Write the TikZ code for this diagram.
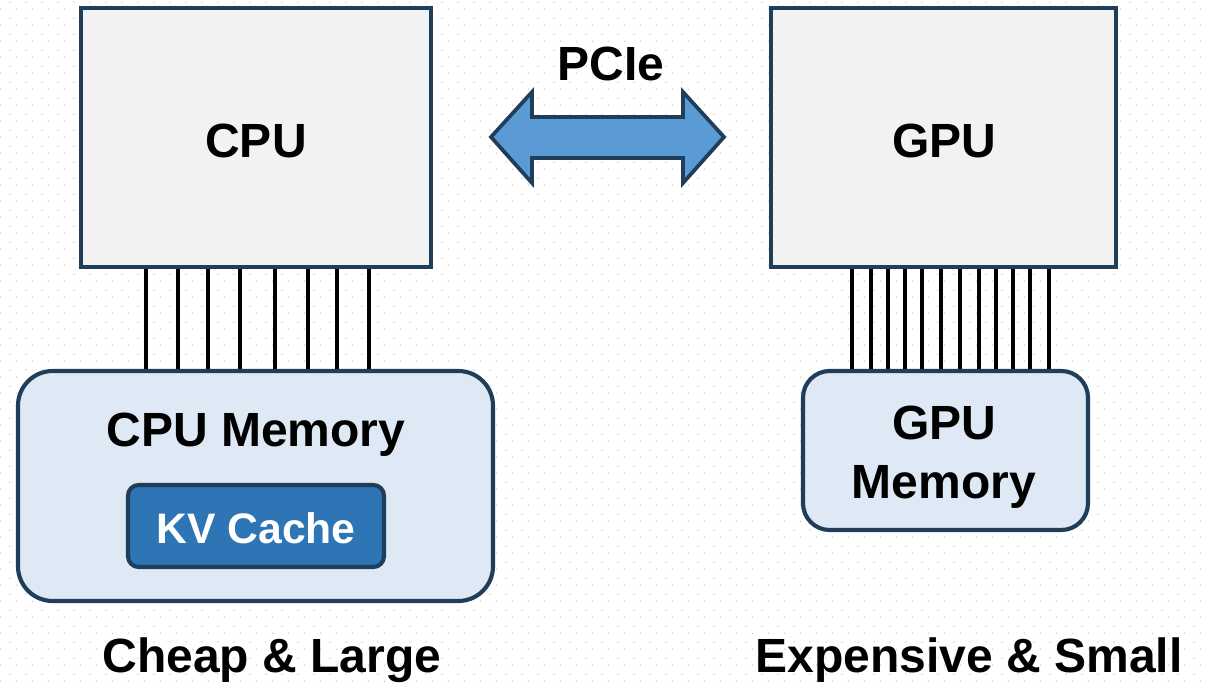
\documentclass[tikz,border=0pt]{standalone}
\usepackage{fontspec}
\setmainfont{Liberation Sans}
\usetikzlibrary{fit}

\definecolor{edge}{HTML}{203D5A}
\definecolor{chipfill}{HTML}{F2F2F2}
\definecolor{memfill}{HTML}{DEE9F5}
\definecolor{kvfill}{HTML}{2E75B6}
\definecolor{linkfill}{HTML}{5B9BD5}
\definecolor{dotgray}{HTML}{D6D6D6}

\tikzset{
  label text/.style={font=\fontsize{36}{44}\selectfont\bfseries, text=black},
  chip/.style={draw=edge, line width=3.1pt, fill=chipfill, inner sep=0pt},
  memory/.style={draw=edge, line width=3.1pt, fill=memfill, inner sep=0pt},
  cache/.style={draw=edge, line width=3.1pt, fill=kvfill, inner sep=0pt, rounded corners=8pt},
  cache text/.style={font=\fontsize{32}{40}\selectfont\bfseries, text=white},
  wire/.style={line width=2.7pt, black},
  link/.style={draw=edge, line width=2.8pt, fill=linkfill, line join=miter},
}

\begin{document}
\begin{tikzpicture}[x=0.75pt, y=-0.75pt]
  \useasboundingbox (0,0) rectangle (1207,684);
  \fill[white] (0,0) rectangle (1207,684);

  % dotted paper background
  \foreach \i in {0,...,75} {
    \foreach \j in {0,...,42} {
      \fill[dotgray] ({10+16*\i},{2+16*\j}) circle (0.7pt);
      \fill[dotgray] ({0.7+16*\i},{9.3+16*\j}) circle (0.7pt);
    }
  }

  % processors
  \node[chip, fit={(81,8) (431,267)}] (cpu) {};
  \node[label text] at (256,141) {CPU};
  \node[chip, fit={(771,8) (1116,267)}] (gpu) {};
  \node[label text] at (944,141) {GPU};

  % memories
  \node[memory, rounded corners=26pt, fit={(18,371) (493,601)}] (cpumem) {};
  \node[label text] at (256,435) {CPU Memory};
  \node[cache, fit={(128,485) (384,567)}] (kv) {};
  \node[cache text] at (256,528) {KV Cache};

  \node[memory, rounded corners=20pt, fit={(803,371) (1088,530)}] (gpumem) {};
  \node[label text, align=center] at (944,457) {GPU\\Memory};

  % memory buses
  \foreach \x in {146,178,208,240,275,308,337,369}
    \draw[wire] (cpu.south -| \x,0) -- (cpumem.north -| \x,0);
  \foreach \x in {852,871,888,905,922,941,960,979,996,1013,1030,1049}
    \draw[wire] (gpu.south -| \x,0) -- (gpumem.north -| \x,0);

  % PCIe link
  \draw[link] (491,137) -- (532,92) -- (532,117) -- (683,117) -- (683,92)
    -- (724,137) -- (683,183) -- (683,158) -- (532,158) -- (532,183) -- cycle;
  \node[label text] (pcie) at (611,64) {PCIe};

  % captions
  \node[label text] (cheap) at (272,660) {Cheap \& Large};
  \node[label text] (costly) at (969,660) {Expensive \& Small};
\end{tikzpicture}
\end{document}
